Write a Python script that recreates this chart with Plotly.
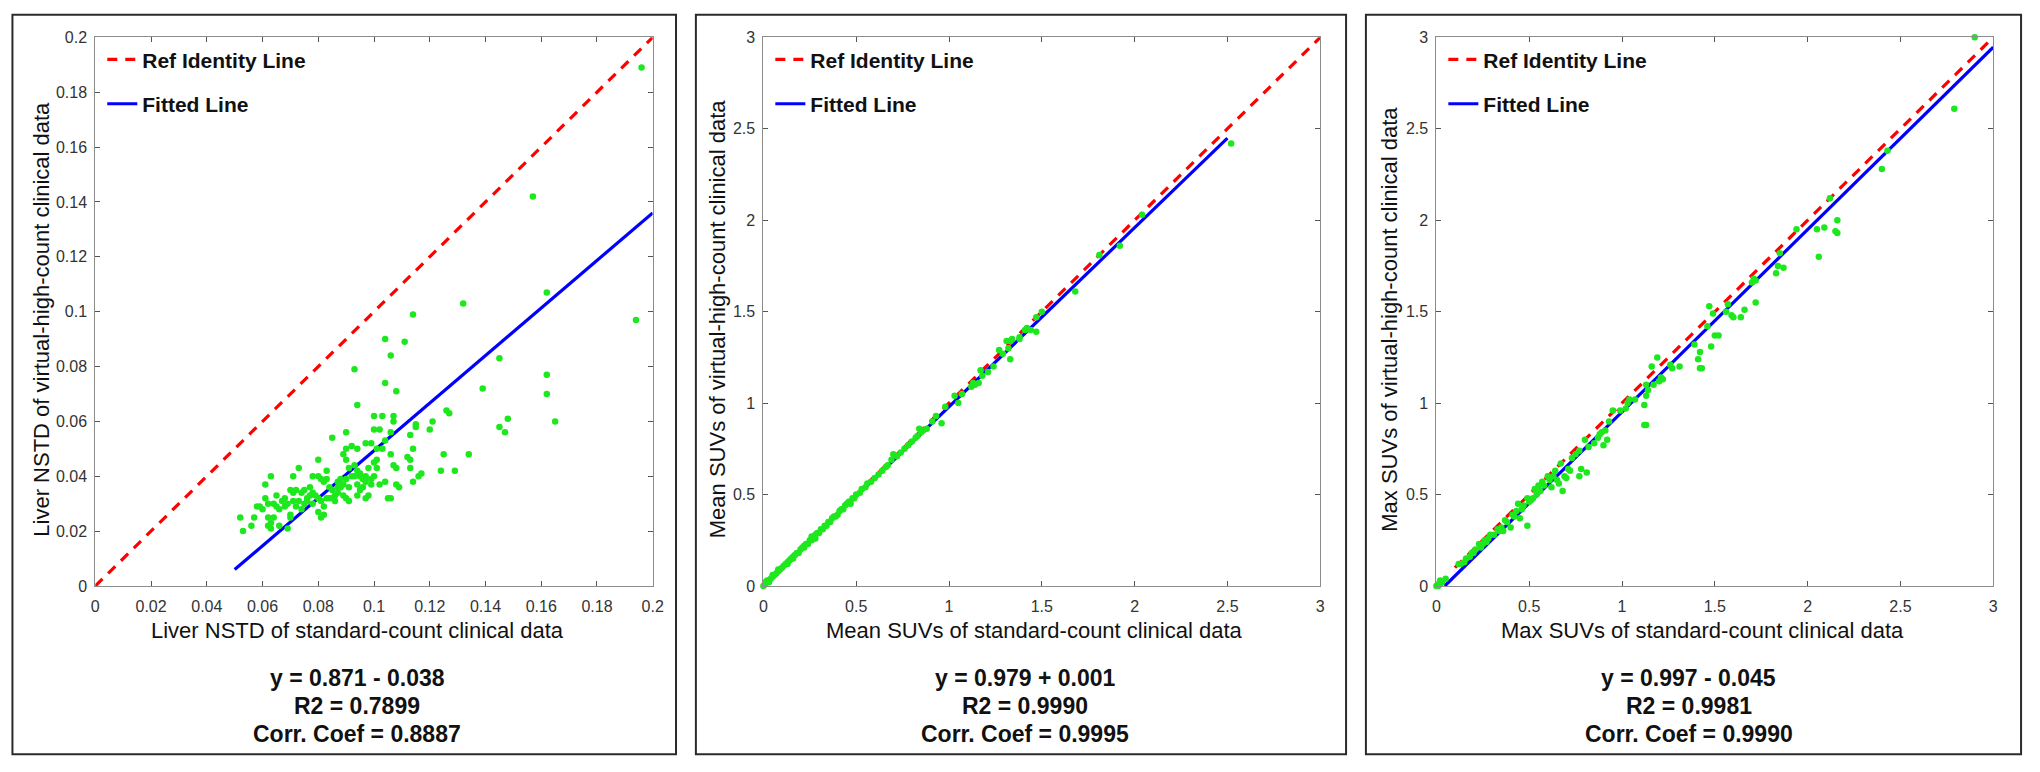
import plotly.graph_objects as go

W, H = 2040, 772

# ---------------- data ----------------
nstd_x = [0.196, 0.157, 0.162, 0.194, 0.132, 0.114, 0.104, 0.111, 0.106, 0.145, 0.093, 0.162, 0.104, 0.139,
          0.108, 0.162, 0.094, 0.165, 0.148, 0.145, 0.147, 0.126, 0.127, 0.121, 0.120, 0.115, 0.115, 0.113,
          0.114, 0.125, 0.134, 0.124, 0.129, 0.117, 0.114, 0.116, 0.113, 0.112, 0.113, 0.107, 0.107, 0.103,
          0.100, 0.106, 0.102, 0.100, 0.104, 0.103, 0.101, 0.099, 0.097, 0.106, 0.108, 0.107, 0.108, 0.109,
          0.106, 0.105, 0.102, 0.101, 0.100, 0.101, 0.100, 0.099, 0.098, 0.097, 0.097, 0.096, 0.098, 0.097,
          0.095, 0.094, 0.094, 0.093, 0.092, 0.092, 0.093, 0.094, 0.095, 0.094, 0.090, 0.090, 0.089, 0.090,
          0.091, 0.090, 0.089, 0.091, 0.089, 0.090, 0.091, 0.088, 0.087, 0.087, 0.087, 0.085, 0.085, 0.086,
          0.084, 0.084, 0.083, 0.082, 0.083, 0.083, 0.081, 0.080, 0.080, 0.080, 0.081, 0.080, 0.081, 0.082,
          0.078, 0.079, 0.078, 0.077, 0.076, 0.075, 0.075, 0.074, 0.074, 0.073, 0.073, 0.072, 0.071, 0.071,
          0.070, 0.070, 0.070, 0.071, 0.069, 0.068, 0.068, 0.069, 0.067, 0.066, 0.066, 0.065, 0.065, 0.064,
          0.064, 0.063, 0.063, 0.063, 0.062, 0.062, 0.062, 0.061, 0.061, 0.060, 0.059, 0.058, 0.057, 0.056,
          0.053, 0.052, 0.076, 0.077, 0.085, 0.086, 0.088, 0.095, 0.096, 0.099, 0.104, 0.072, 0.078, 0.082]
nstd_y = [0.189, 0.142, 0.107, 0.097, 0.103, 0.099, 0.090, 0.089, 0.084, 0.083, 0.079, 0.077, 0.074, 0.072,
          0.071, 0.070, 0.066, 0.060, 0.061, 0.058, 0.056, 0.064, 0.063, 0.060, 0.057, 0.059, 0.058, 0.055,
          0.050, 0.048, 0.048, 0.042, 0.042, 0.041, 0.038, 0.040, 0.043, 0.047, 0.046, 0.062, 0.060, 0.062,
          0.062, 0.056, 0.057, 0.057, 0.053, 0.050, 0.050, 0.052, 0.052, 0.048, 0.043, 0.044, 0.037, 0.036,
          0.032, 0.032, 0.037, 0.046, 0.045, 0.043, 0.040, 0.039, 0.043, 0.040, 0.038, 0.036, 0.033, 0.032,
          0.041, 0.042, 0.050, 0.044, 0.051, 0.040, 0.040, 0.037, 0.035, 0.033, 0.050, 0.056, 0.048, 0.046,
          0.043, 0.039, 0.037, 0.036, 0.033, 0.032, 0.031, 0.039, 0.038, 0.036, 0.034, 0.054, 0.035, 0.033,
          0.036, 0.032, 0.032, 0.038, 0.039, 0.042, 0.039, 0.046, 0.040, 0.032, 0.031, 0.027, 0.025, 0.026,
          0.040, 0.033, 0.030, 0.036, 0.032, 0.035, 0.030, 0.034, 0.028, 0.043, 0.031, 0.035, 0.034, 0.031,
          0.035, 0.026, 0.025, 0.040, 0.030, 0.032, 0.029, 0.021, 0.031, 0.028, 0.022, 0.033, 0.029, 0.025,
          0.030, 0.040, 0.023, 0.021, 0.022, 0.025, 0.030, 0.037, 0.032, 0.028, 0.029, 0.029, 0.025, 0.022,
          0.020, 0.025, 0.031, 0.033, 0.032, 0.031, 0.036, 0.040, 0.039, 0.037, 0.038, 0.029, 0.034, 0.029]

mean_x = [0.00, 0.01, 0.01, 0.02, 0.02, 0.03, 0.03, 0.04, 0.05, 0.05, 0.06, 0.07, 0.08, 0.08, 0.09, 0.10,
          0.11, 0.12, 0.13, 0.13, 0.14, 0.15, 0.16, 0.16, 0.17, 0.18, 0.19, 0.20, 0.21, 0.22, 0.22, 0.23,
          0.24, 0.25, 0.26, 0.26, 0.27, 0.28, 0.28, 0.29, 0.30, 0.31, 0.32, 0.33, 0.34, 0.35, 0.36, 0.37,
          0.38, 0.39, 0.40, 0.41, 0.42, 0.43, 0.44, 0.45, 0.46, 0.47, 0.48, 0.49, 0.50, 0.52, 0.53, 0.55,
          0.56, 0.58, 0.60, 0.62, 0.64, 0.66, 0.67, 0.69, 0.70, 0.72, 0.74, 0.76, 0.78, 0.80, 0.82, 0.83,
          0.84, 0.85, 0.86, 0.88, 0.91, 0.93, 0.96, 0.98, 1.03, 1.05, 1.07, 1.12, 1.13, 1.14, 1.16, 1.17,
          1.18, 1.21, 1.24, 1.27, 1.29, 1.31, 1.32, 1.33, 1.33, 1.34, 1.38, 1.38, 1.41, 1.42, 1.44, 1.47,
          1.47, 1.50, 1.68, 1.81, 1.92, 2.04, 2.52]
mean_y = [0.00, 0.01, 0.02, 0.02, 0.03, 0.03, 0.02, 0.04, 0.05, 0.06, 0.06, 0.07, 0.08, 0.09, 0.09, 0.10,
          0.11, 0.12, 0.13, 0.12, 0.14, 0.15, 0.16, 0.15, 0.17, 0.18, 0.18, 0.20, 0.21, 0.22, 0.21, 0.23,
          0.23, 0.25, 0.25, 0.27, 0.26, 0.28, 0.26, 0.29, 0.29, 0.31, 0.31, 0.33, 0.33, 0.35, 0.35, 0.37,
          0.38, 0.38, 0.39, 0.41, 0.42, 0.42, 0.44, 0.45, 0.46, 0.45, 0.48, 0.48, 0.50, 0.51, 0.53, 0.54,
          0.56, 0.57, 0.59, 0.61, 0.63, 0.65, 0.66, 0.69, 0.72, 0.71, 0.73, 0.75, 0.77, 0.79, 0.81, 0.82,
          0.86, 0.84, 0.85, 0.86, 0.90, 0.93, 0.89, 0.98, 1.04, 1.00, 1.05, 1.09, 1.11, 1.10, 1.11, 1.18,
          1.15, 1.17, 1.20, 1.29, 1.27, 1.34, 1.30, 1.34, 1.24, 1.35, 1.35, 1.36, 1.40, 1.41, 1.40, 1.47,
          1.39, 1.50, 1.61, 1.81, 1.86, 2.03, 2.42]

max_x = [2.90, 2.79, 2.43, 2.40, 2.12, 2.16, 2.15, 2.16, 2.09, 2.05, 2.06, 1.94, 1.85, 1.84, 1.87, 1.83,
         1.72, 1.71, 1.70, 1.72, 1.66, 1.64, 1.60, 1.59, 1.57, 1.56, 1.47, 1.49, 1.46, 1.50, 1.52, 1.48,
         1.39, 1.42, 1.41, 1.42, 1.43, 1.31, 1.26, 1.27, 1.21, 1.20, 1.22, 1.19, 1.16, 1.17, 1.14, 1.13,
         1.13, 1.12, 1.12, 1.13, 1.07, 1.04, 1.03, 1.02, 0.99, 0.95, 0.93, 0.91, 0.92, 0.90, 0.89, 0.88,
         0.87, 0.85, 0.82, 0.80, 0.81, 0.77, 0.77, 0.78, 0.75, 0.73, 0.72, 0.71, 0.70, 0.69, 0.68, 0.67,
         0.66, 0.65, 0.64, 0.63, 0.62, 0.61, 0.60, 0.58, 0.57, 0.56, 0.55, 0.54, 0.53, 0.52, 0.51, 0.50,
         0.49, 0.49, 0.47, 0.46, 0.45, 0.44, 0.43, 0.42, 0.41, 0.40, 0.38, 0.37, 0.36, 0.35, 0.34, 0.33,
         0.31, 0.29, 0.28, 0.27, 0.26, 0.25, 0.24, 0.23, 0.21, 0.20, 0.19, 0.18, 0.16, 0.15, 0.13, 0.12,
         0.05, 0.03, 0.02, 0.01, 0.00, 0.01, 0.02]
max_y = [3.00, 2.61, 2.38, 2.28, 2.12, 2.00, 1.94, 1.93, 1.96, 1.95, 1.80, 1.95, 1.82, 1.75, 1.74, 1.71,
         1.67, 1.68, 1.66, 1.55, 1.51, 1.47, 1.47, 1.48, 1.54, 1.50, 1.53, 1.49, 1.42, 1.37, 1.37, 1.31,
         1.32, 1.28, 1.24, 1.19, 1.19, 1.20, 1.21, 1.19, 1.14, 1.12, 1.13, 1.25, 1.20, 1.10, 1.07, 1.10,
         1.04, 0.99, 0.88, 0.88, 1.02, 1.02, 1.00, 0.97, 0.96, 0.96, 0.90, 0.85, 0.80, 0.77, 0.84, 0.83,
         0.81, 0.78, 0.76, 0.80, 0.62, 0.74, 0.60, 0.64, 0.72, 0.70, 0.63, 0.64, 0.59, 0.60, 0.52, 0.67,
         0.56, 0.58, 0.63, 0.60, 0.54, 0.58, 0.60, 0.55, 0.57, 0.52, 0.55, 0.50, 0.53, 0.48, 0.47, 0.46,
         0.48, 0.33, 0.44, 0.42, 0.37, 0.45, 0.41, 0.38, 0.39, 0.32, 0.35, 0.36, 0.30, 0.32, 0.30, 0.31,
         0.28, 0.28, 0.26, 0.24, 0.25, 0.23, 0.21, 0.23, 0.20, 0.18, 0.18, 0.16, 0.15, 0.13, 0.12, 0.12,
         0.04, 0.02, 0.01, 0.01, 0.00, 0.00, 0.03]

# line end points
ident1_x, ident1_y = [0.0, 0.2], [0.0, 0.2]
fit1_x, fit1_y = [0.05, 0.2], [0.006, 0.136]
ident2_x, ident2_y = [0.0, 3.0], [0.0, 3.0]
fit2_x, fit2_y = [0.0, 2.5], [0.001, 2.449]
ident3_x, ident3_y = [0.1, 3.0], [0.1, 3.0]
fit3_x, fit3_y = [0.045, 3.0], [0.0, 2.946]

x_titles = ["Liver NSTD of standard-count clinical data",
            "Mean SUVs of standard-count clinical data",
            "Max SUVs of standard-count clinical data"]
y_titles = ["Liver NSTD of virtual-high-count clinical data",
            "Mean SUVs of virtual-high-count clinical data",
            "Max SUVs of virtual-high-count clinical data"]
stats = [["y = 0.871 - 0.038", "R2 = 0.7899", "Corr. Coef = 0.8887"],
         ["y = 0.979 + 0.001", "R2 = 0.9990", "Corr. Coef = 0.9995"],
         ["y = 0.997 - 0.045", "R2 = 0.9981", "Corr. Coef = 0.9990"]]
ranges = [[0, 0.2], [0, 3], [0, 3]]
dticks = [0.02, 0.5, 0.5]

# ---------------- layout geometry (pixels) ----------------
plot_l = [92, 765, 1443]
plot_r = [653.5, 1326, 2004]
plot_t, plot_b = 30, 591
box_l = [8.5, 697, 1372]
box_r = [677, 1352, 2032]
box_t, box_b = 7, 763
xtitle_cx = [356, 1038, 1711]
ytitle_cx = [38, 719.5, 1396]
ytitle_cy = 318
stats_cx = [356, 1029, 1697]
stats_cy = [685, 713.5, 742]

def px(x):
    return x / W

def py(y):
    return 1 - y / H

FONT = "Arial, Liberation Sans, Helvetica, sans-serif"
GREEN = "#1de81d"

fig = go.Figure()
panels = [
    (nstd_x, nstd_y, ident1_x, ident1_y, fit1_x, fit1_y),
    (mean_x, mean_y, ident2_x, ident2_y, fit2_x, fit2_y),
    (max_x, max_y, ident3_x, ident3_y, fit3_x, fit3_y),
]
layout = {}
annotations = []
shapes = []
for i, (sx, sy, ix, iy, fx, fy) in enumerate(panels):
    n = "" if i == 0 else str(i + 1)
    xa, ya = "x" + n, "y" + n
    lg = "legend" + n
    fig.add_trace(go.Scatter(x=ix, y=iy, xaxis=xa, yaxis=ya, mode="lines",
                             name="Ref Identity Line", legend=lg, legendgroup="a%d" % i,
                             line=dict(color="#ff0000", width=3.2, dash="10px,8px")))
    fig.add_trace(go.Scatter(x=fx, y=fy, xaxis=xa, yaxis=ya, mode="lines",
                             name="Fitted Line", legend=lg, legendgroup="b%d" % i,
                             line=dict(color="#0000ff", width=3.2)))
    fig.add_trace(go.Scatter(x=sx, y=sy, xaxis=xa, yaxis=ya, mode="markers",
                             showlegend=False, cliponaxis=False,
                             marker=dict(color=GREEN, size=6.5, line=dict(width=0))))
    axis_common = dict(range=ranges[i], dtick=dticks[i], tick0=0, showgrid=False, zeroline=False,
                       showline=True, linecolor="#8c8c8c", linewidth=1, mirror="ticks",
                       ticks="inside", ticklen=5, tickcolor="#555555",
                       tickfont=dict(family=FONT, size=16, color="#333333"))
    layout["xaxis" + n] = dict(axis_common, domain=[px(plot_l[i]), px(plot_r[i])],
                               anchor=ya, ticklabelstandoff=6)
    layout["yaxis" + n] = dict(axis_common, domain=[py(plot_b), py(plot_t)],
                               anchor=xa, ticklabelstandoff=4)
    layout[lg] = dict(x=px(plot_l[i] + 7), y=py(32), xanchor="left", yanchor="top",
                      bgcolor="rgba(0,0,0,0)", borderwidth=0, tracegroupgap=14,
                      font=dict(family=FONT, size=21, color="#111111", weight="bold"))
    annotations.append(dict(text=x_titles[i], x=px(xtitle_cx[i]), y=py(637), xref="paper", yref="paper",
                            showarrow=False, xanchor="center", yanchor="middle",
                            font=dict(family=FONT, size=22, color="#111111")))
    annotations.append(dict(text=y_titles[i], x=px(ytitle_cx[i]), y=py(ytitle_cy), xref="paper",
                            yref="paper", showarrow=False, textangle=-90, xanchor="center",
                            yanchor="middle", font=dict(family=FONT, size=22, color="#111111")))
    for line_text, cy in zip(stats[i], stats_cy):
        annotations.append(dict(text=line_text, x=px(stats_cx[i]), y=py(cy), xref="paper", yref="paper",
                                showarrow=False, xanchor="center", yanchor="middle",
                                font=dict(family=FONT, size=23, color="#111111", weight="bold")))
    shapes.append(dict(type="rect", xref="paper", yref="paper", x0=px(box_l[i]), x1=px(box_r[i]),
                       y0=py(box_b), y1=py(box_t), line=dict(color="#2b2b2b", width=2)))

fig.update_layout(**layout)
fig.update_layout(width=W, height=H, margin=dict(l=0, r=0, t=0, b=0),
                  paper_bgcolor="white", plot_bgcolor="white",
                  annotations=annotations, shapes=shapes)
fig.write_html("out.html", config={"displayModeBar": False},
               post_script="document.body.style.margin='0';document.body.style.overflow='hidden';")
